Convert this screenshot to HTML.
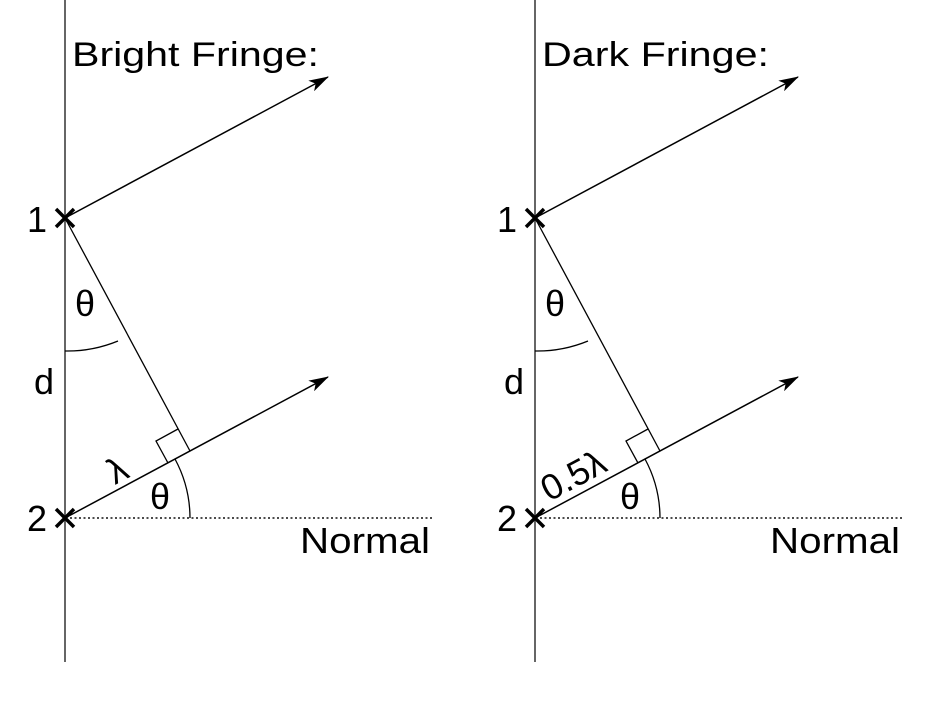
<!DOCTYPE html>
<html><head><style>html,body{margin:0;padding:0;background:#fff}</style></head>
<body>
<svg width="951" height="717" viewBox="0 0 951 717" xmlns="http://www.w3.org/2000/svg" font-family="Liberation Sans, DejaVu Sans, sans-serif" fill="#000">
<defs>
<marker id="ah" markerWidth="20" markerHeight="12" refX="19" refY="6" orient="auto" markerUnits="userSpaceOnUse">
<path d="M0,0 L20,6 L0,12 L5,6 Z" fill="#000"/>
</marker>
<g id="panel">
<line x1="65" y1="0" x2="65" y2="662" stroke="#666" stroke-width="2"/>
<line x1="65" y1="218" x2="328" y2="77" stroke="#000" stroke-width="1.5" marker-end="url(#ah)"/>
<line x1="65" y1="518" x2="328" y2="377" stroke="#000" stroke-width="1.5" marker-end="url(#ah)"/>
<line x1="65" y1="218" x2="190" y2="451" stroke="#000" stroke-width="1.3"/>
<line x1="70" y1="518" x2="432" y2="518" stroke="#333" stroke-width="1.8" stroke-dasharray="2,2.5"/>
<polyline points="168,463 156,441 178,429" fill="none" stroke="#000" stroke-width="1.3"/>
<path d="M65,351 A133,133 0 0 0 118,341" fill="none" stroke="#000" stroke-width="1.3"/>
<path d="M190,518 A125,125 0 0 0 175,459" fill="none" stroke="#000" stroke-width="1.3"/>
<path d="M56,209 L74,227 M74,209 L56,227" stroke="#000" stroke-width="3.5"/>
<path d="M56,509 L74,527 M74,509 L56,527" stroke="#000" stroke-width="3.5"/>
<text x="27" y="232" font-size="36">1</text>
<text x="27" y="531" font-size="36">2</text>
<text x="34" y="394" font-size="36">d</text>
<text x="75" y="316" font-size="36">θ</text>
<text x="150" y="509" font-size="36">θ</text>
<text x="300" y="553" font-size="36" textLength="130" lengthAdjust="spacingAndGlyphs">Normal</text>
</g>
</defs>
<use href="#panel"/>
<use href="#panel" x="470"/>
<text x="72" y="66" font-size="34" textLength="247" lengthAdjust="spacingAndGlyphs">Bright Fringe:</text>
<text x="542" y="66" font-size="34" textLength="227" lengthAdjust="spacingAndGlyphs">Dark Fringe:</text>
<text x="0" y="0" font-size="36" transform="translate(115,485) rotate(-28)">λ</text>
<text x="0" y="0" font-size="36" transform="translate(549,502) rotate(-28)">0.5λ</text>
</svg>
</body></html>
